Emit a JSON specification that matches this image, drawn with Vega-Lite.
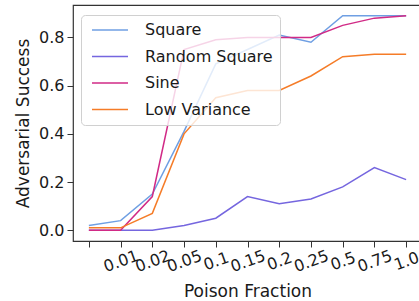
{
  "$schema": "https://vega.github.io/schema/vega-lite/v6.json",
  "autosize": "none",
  "padding": {"left": 73, "top": 5, "right": 0, "bottom": 60},
  "width": 349,
  "height": 236,
  "config": {
    "font": "DejaVu Sans",
    "view": {"stroke": "#333333", "strokeWidth": 1.2},
    "axis": {"grid": false, "domain": false, "tickColor": "#333333", "tickSize": 6, "tickWidth": 1, "labelColor": "#1a1a1a", "titleColor": "#1a1a1a", "titleFontWeight": "normal", "labelFontSize": 15, "titleFontSize": 17}
  },
  "data": {
    "values": [
      {"series": "Square", "frac": "0", "v": 0.02},
      {"series": "Square", "frac": "0.01", "v": 0.04},
      {"series": "Square", "frac": "0.02", "v": 0.15},
      {"series": "Square", "frac": "0.05", "v": 0.41},
      {"series": "Square", "frac": "0.1", "v": 0.69},
      {"series": "Square", "frac": "0.15", "v": 0.75},
      {"series": "Square", "frac": "0.2", "v": 0.81},
      {"series": "Square", "frac": "0.25", "v": 0.78},
      {"series": "Square", "frac": "0.5", "v": 0.89},
      {"series": "Square", "frac": "0.75", "v": 0.89},
      {"series": "Square", "frac": "1.0", "v": 0.89},
      {"series": "Random Square", "frac": "0", "v": 0.0},
      {"series": "Random Square", "frac": "0.01", "v": 0.0},
      {"series": "Random Square", "frac": "0.02", "v": 0.0},
      {"series": "Random Square", "frac": "0.05", "v": 0.02},
      {"series": "Random Square", "frac": "0.1", "v": 0.05},
      {"series": "Random Square", "frac": "0.15", "v": 0.14},
      {"series": "Random Square", "frac": "0.2", "v": 0.11},
      {"series": "Random Square", "frac": "0.25", "v": 0.13},
      {"series": "Random Square", "frac": "0.5", "v": 0.18},
      {"series": "Random Square", "frac": "0.75", "v": 0.26},
      {"series": "Random Square", "frac": "1.0", "v": 0.21},
      {"series": "Sine", "frac": "0", "v": 0.0},
      {"series": "Sine", "frac": "0.01", "v": 0.0},
      {"series": "Sine", "frac": "0.02", "v": 0.14},
      {"series": "Sine", "frac": "0.05", "v": 0.75},
      {"series": "Sine", "frac": "0.1", "v": 0.79},
      {"series": "Sine", "frac": "0.15", "v": 0.8},
      {"series": "Sine", "frac": "0.2", "v": 0.8},
      {"series": "Sine", "frac": "0.25", "v": 0.8},
      {"series": "Sine", "frac": "0.5", "v": 0.85},
      {"series": "Sine", "frac": "0.75", "v": 0.88},
      {"series": "Sine", "frac": "1.0", "v": 0.89},
      {"series": "Low Variance", "frac": "0", "v": 0.01},
      {"series": "Low Variance", "frac": "0.01", "v": 0.01},
      {"series": "Low Variance", "frac": "0.02", "v": 0.07},
      {"series": "Low Variance", "frac": "0.05", "v": 0.4},
      {"series": "Low Variance", "frac": "0.1", "v": 0.55},
      {"series": "Low Variance", "frac": "0.15", "v": 0.58},
      {"series": "Low Variance", "frac": "0.2", "v": 0.58},
      {"series": "Low Variance", "frac": "0.25", "v": 0.64},
      {"series": "Low Variance", "frac": "0.5", "v": 0.72},
      {"series": "Low Variance", "frac": "0.75", "v": 0.73},
      {"series": "Low Variance", "frac": "1.0", "v": 0.73}
    ]
  },
  "mark": {"type": "line", "strokeWidth": 1.5},
  "encoding": {
    "x": {
      "field": "frac",
      "type": "ordinal",
      "sort": ["0", "0.01", "0.02", "0.05", "0.1", "0.15", "0.2", "0.25", "0.5", "0.75", "1.0"],
      "scale": {"type": "point", "padding": 0.5},
      "axis": {"title": "Poison Fraction", "labelAngle": -20, "labelAlign": "center", "labelBaseline": "middle", "labelPadding": 14, "labelDx": -3, "labelExpr": "datum.value == '0' ? '' : datum.label", "labelFontSize": 16, "titlePadding": 9}
    },
    "y": {
      "field": "v",
      "type": "quantitative",
      "scale": {"domain": [-0.0445, 0.9345], "nice": false, "zero": false},
      "axis": {"title": "Adversarial Success", "values": [0, 0.2, 0.4, 0.6, 0.8], "format": ".1f", "labelPadding": 3, "titlePadding": 6, "labelFontSize": 16}
    },
    "color": {
      "field": "series",
      "type": "nominal",
      "sort": ["Square", "Random Square", "Sine", "Low Variance"],
      "scale": {"domain": ["Square", "Random Square", "Sine", "Low Variance"], "range": ["#6f9fe3", "#7566df", "#d12a86", "#f57c28"]},
      "legend": {
        "title": null,
        "orient": "none",
        "legendX": 8,
        "legendY": 10,
        "symbolType": "M-1,0H8",
        "symbolSize": 64,
        "symbolStrokeWidth": 1.5,
        "labelFontSize": 16,
        "labelColor": "#1a1a1a",
        "labelOffset": 41,
        "rowPadding": 10.5,
        "padding": 7,
        "fillColor": "rgba(255,255,255,0.8)",
        "strokeColor": "#d0d0d0",
        "cornerRadius": 4
      }
    }
  }
}
